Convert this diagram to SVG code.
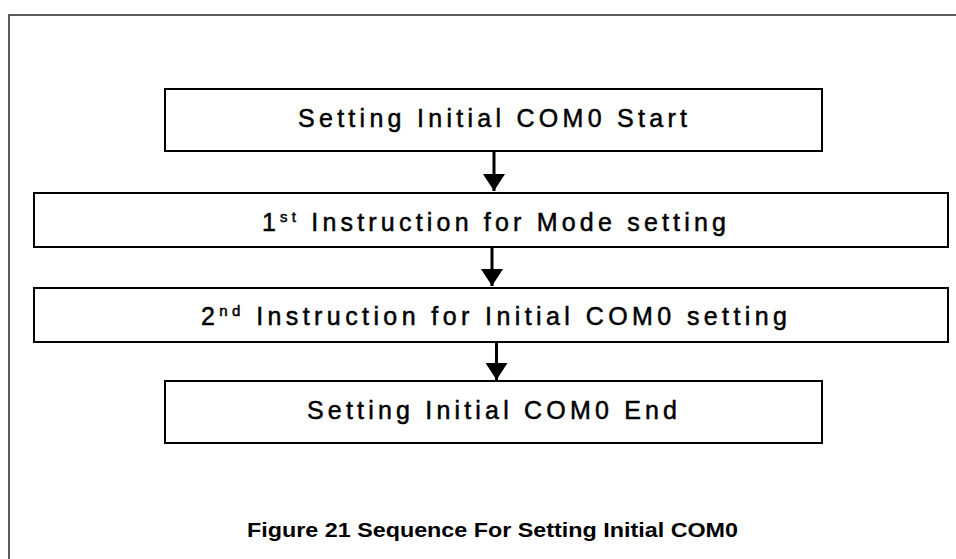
<svg xmlns="http://www.w3.org/2000/svg" width="956" height="559" viewBox="0 0 956 559">
<defs>
<style>
.frame{fill:none;stroke:#333;stroke-width:1.6}
.box{fill:#fff;stroke:#000;stroke-width:2}
.lbl{font-family:"Liberation Sans",Arial,sans-serif;font-size:25px;fill:#000;stroke:#000;stroke-width:0.5}
.sup{font-size:15px}
.cap{font-family:"Liberation Sans",Arial,sans-serif;font-size:20px;font-weight:bold;fill:#000}
.shaft{stroke:#000;stroke-width:3;fill:none}
</style>
<marker id="ah" markerUnits="userSpaceOnUse" markerWidth="28" markerHeight="22" refX="21" refY="13.5" orient="auto" viewBox="0 0 22 27">
<path d="M0,0 L21,13.5 L0,27 Z" fill="#000"/>
</marker>
</defs>
<rect width="956" height="559" fill="#fff"/>
<rect class="frame" x="9" y="15" width="1000" height="600"/>
<g id="connectors">
<line class="shaft" x1="494" y1="151" x2="494" y2="191" marker-end="url(#ah)"/>
<line class="shaft" x1="492" y1="247" x2="492" y2="286" marker-end="url(#ah)"/>
<line class="shaft" x1="496.5" y1="342" x2="496.5" y2="380" marker-end="url(#ah)"/>
</g>
<g id="n1">
<rect class="box" x="165" y="89" width="657" height="62"/>
<text class="lbl" x="298" y="127" textLength="389" lengthAdjust="spacing">Setting Initial COM0 Start</text>
</g>
<g id="n2">
<rect class="box" x="34" y="193" width="914" height="54"/>
<text class="lbl" x="262" y="231" textLength="464" lengthAdjust="spacing">1<tspan class="sup" dy="-9">st</tspan><tspan dy="9"> Instruction for Mode setting</tspan></text>
</g>
<g id="n3">
<rect class="box" x="34" y="288" width="914" height="54"/>
<text class="lbl" x="201" y="325" textLength="586" lengthAdjust="spacing">2<tspan class="sup" dy="-9">nd</tspan><tspan dy="9"> Instruction for Initial COM0 setting</tspan></text>
</g>
<g id="n4">
<rect class="box" x="165" y="381" width="657" height="62"/>
<text class="lbl" x="307" y="419" textLength="370" lengthAdjust="spacing">Setting Initial COM0 End</text>
</g>
<text class="cap" x="247" y="537" textLength="491" lengthAdjust="spacingAndGlyphs">Figure 21 Sequence For Setting Initial COM0</text>
</svg>
